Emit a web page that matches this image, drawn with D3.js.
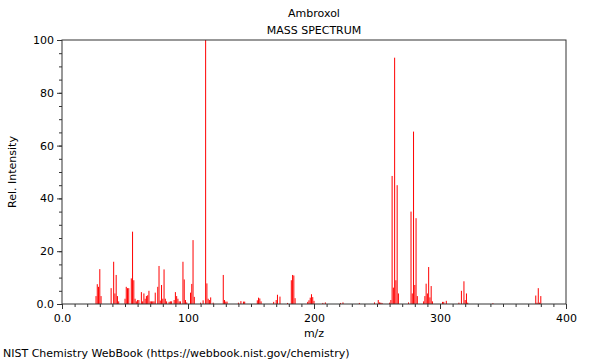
<!DOCTYPE html>
<html>
<head>
  <meta charset="utf-8"/>
  <title>Ambroxol</title>
  <style>
    body { margin: 0; background: #fff; }
    text { font-family: "DejaVu Sans", sans-serif; font-size: 11px; fill: #000; }
  </style>
</head>
<body>
<div id="graph"></div>
<script src="https://cdn.jsdelivr.net/npm/d3@7"></script>
<script>
    // peak positions (m/z) and relative intensities
    var mz = [27, 28, 29, 30, 31, 39, 41, 42, 43, 44, 45, 50, 51, 52, 53, 55, 56, 57, 58, 59,
              60, 61, 63, 64, 65, 66, 67, 68, 69, 70, 71, 72, 73, 74, 76, 77, 78, 79, 80, 81,
              82, 83, 85, 86, 87, 89, 90, 91, 92, 93, 94, 96, 97, 98, 99, 102, 103, 104, 105, 110,
              112, 114, 115, 116, 117, 118, 120, 128, 129, 130, 131, 140, 142, 144, 145, 155, 156, 157, 158, 168,
              170, 171, 173, 179, 182, 183, 184, 185, 195, 196, 197, 198, 199, 200, 207, 209, 221, 223, 236, 248,
              251, 252, 253, 254, 260, 261, 262, 263, 264, 265, 266, 267, 275, 277, 278, 279, 280, 281, 282, 287,
              288, 289, 290, 291, 292, 293, 294, 302, 303, 305, 315, 317, 319, 320, 321, 322, 342, 376, 377, 378,
              379, 380];
    var intensity = [3, 7.5, 6.5, 13.2, 3, 6, 16, 4, 11, 3, 1, 2, 6.5, 6, 6, 9.7, 27.4, 9, 2, 1,
              1.5, 1.5, 4.5, 1, 4, 2, 3, 3.3, 5, 1, 1, 1, 1, 4.3, 6.5, 14.4, 1.3, 7.2, 2, 13.1,
              2, 1, 0.8, 1, 1, 1.5, 4.5, 3, 2, 1, 1, 16, 9.3, 1.5, 0.6, 4.3, 7.6, 24.2, 2.7, 0.5,
              1.4, 100, 7.8, 2, 1.5, 2.5, 0.5, 11, 1.5, 0.9, 0.9, 0.5, 1.1, 0.9, 0.9, 1.4, 2.4, 2.1, 1, 0.8,
              1.5, 3.5, 2.8, 0.4, 9, 11, 10.8, 2.2, 0.8, 1.4, 2.4, 3.7, 2.6, 1.2, 0.4, 0.6, 0.4, 0.6, 0.4, 0.6,
              1.5, 0.6, 0.5, 0.4, 0.5, 1.5, 48.5, 6.2, 93.3, 9, 45, 4, 0.6, 35, 4, 65.3, 7.2, 32.5, 3, 1,
              3, 7.7, 4, 14, 2.5, 6.8, 1, 0.8, 0.8, 1.2, 0.5, 5, 8.6, 1.5, 4, 0.5, 0.3, 3.2, 0.5, 6,
              0.5, 3];
    var xTicks = [0, 100, 200, 300, 400];
    var yTicks = [0, 20, 40, 60, 80, 100];
    var xTickLabels = ["0.0", "100", "200", "300", "400"];
    var yTickLabels = ["0.0", "20", "40", "60", "80", "100"];
    var peaks = mz.map(function(m, i) { return {m: m, v: intensity[i]}; });

    var margin = {top: 40, right: 34, bottom: 56, left: 62},
        width = 600 - margin.left - margin.right,
        height = 360 - margin.top - margin.bottom;

    var x = d3.scaleLinear().domain([0, 400]).range([0, width]);
    var y = d3.scaleLinear().domain([0, 100]).range([height, 0]);

    var svg = d3.select("#graph").append("svg")
        .attr("width", 600)
        .attr("height", 360);
    var g = svg.append("g")
        .attr("transform", "translate(" + margin.left + "," + margin.top + ")");

    // peaks
    g.selectAll("line.peak").data(peaks).enter().append("line")
        .attr("class", "peak")
        .attr("x1", function(d) { return x(d.m); })
        .attr("x2", function(d) { return x(d.m); })
        .attr("y1", y(0))
        .attr("y2", function(d) { return y(d.v); })
        .attr("stroke", "#ff0000")
        .attr("stroke-width", 1);

    // minor ticks
    var axisColor = "#333";
    var xAxisMinor = d3.axisBottom(x).ticks(40).tickSize(3).tickFormat("");
    var yAxisMinor = d3.axisLeft(y).ticks(20).tickSize(3).tickFormat("");
    g.append("g").attr("transform", "translate(0," + height + ")").call(xAxisMinor);
    g.append("g").call(yAxisMinor);

    // major ticks
    var xAxis = d3.axisBottom(x).tickValues(xTicks).tickSize(5).tickPadding(5)
        .tickFormat(function(d, i) { return xTickLabels[i]; });
    var yAxis = d3.axisLeft(y).tickValues(yTicks).tickSize(5).tickPadding(3)
        .tickFormat(function(d, i) { return yTickLabels[i]; });
    g.append("g").attr("transform", "translate(0," + height + ")").call(xAxis);
    g.append("g").call(yAxis);

    g.selectAll(".domain").remove();
    g.selectAll(".tick line").attr("stroke", axisColor);
    g.selectAll(".tick text").style("font-family", "DejaVu Sans").style("font-size", "11px").attr("fill", "#000");

    // frame
    g.append("rect")
        .attr("width", width)
        .attr("height", height)
        .attr("fill", "none")
        .attr("stroke", axisColor)
        .attr("stroke-width", 1);

    // titles and labels
    svg.append("text").attr("x", margin.left + width / 2).attr("y", 17)
        .attr("text-anchor", "middle").text("Ambroxol");
    svg.append("text").attr("x", margin.left + width / 2).attr("y", 34)
        .attr("text-anchor", "middle").text("MASS SPECTRUM");
    svg.append("text").attr("x", margin.left + width / 2).attr("y", 337)
        .attr("text-anchor", "middle").text("m/z");
    svg.append("text")
        .attr("transform", "translate(16," + (margin.top + height / 2) + ") rotate(-90)")
        .attr("text-anchor", "middle").text("Rel. Intensity");
    svg.append("text").attr("x", 3).attr("y", 357).text("NIST Chemistry WebBook (https://webbook.nist.gov/chemistry)");
</script>
</body>
</html>
